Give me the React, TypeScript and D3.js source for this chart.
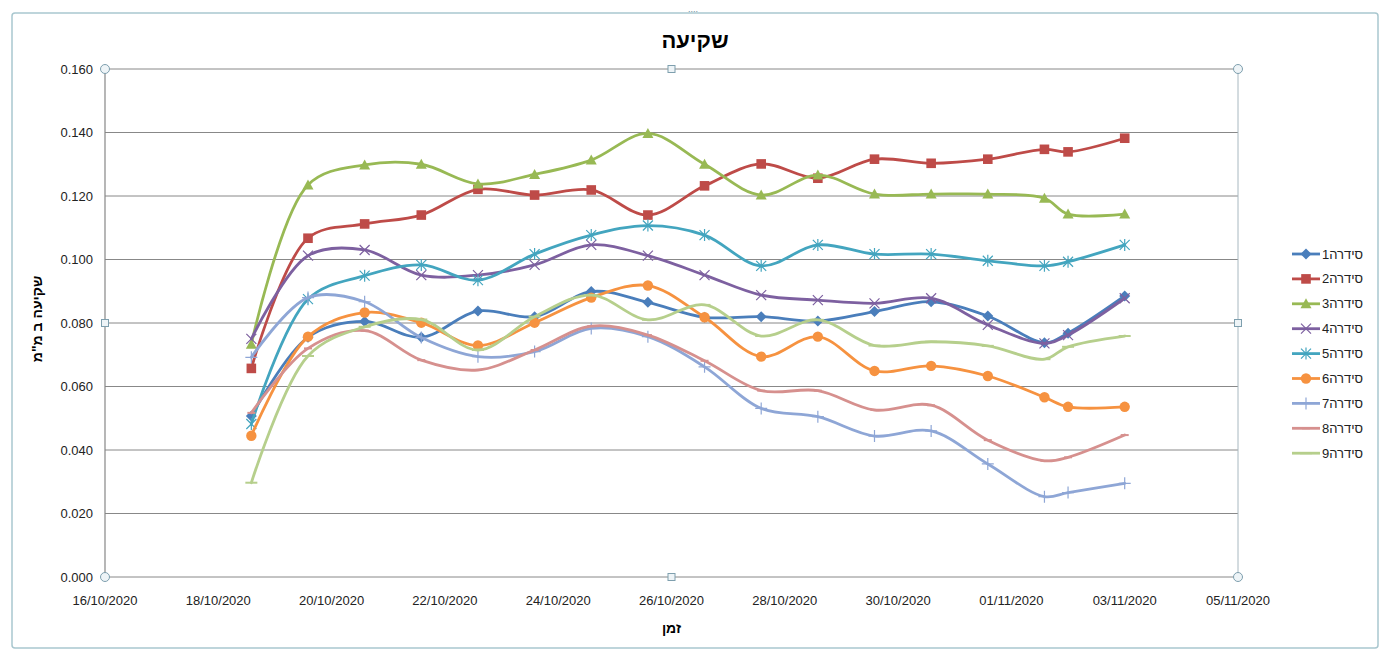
import React from 'react';
import * as d3 from 'd3';

const W = 1387;
const H = 653;
const PLOT = { left: 105, right: 1238, top: 69, bottom: 577 };
const FONT = '"Liberation Sans", Arial, sans-serif';

// measurement times (the last two points were logged without a time of day)
const dates = [
  '2020-10-18T14:00', '2020-10-19T14:00', '2020-10-20T14:00', '2020-10-21T14:00',
  '2020-10-22T14:00', '2020-10-23T14:00', '2020-10-24T14:00', '2020-10-25T14:00',
  '2020-10-26T14:00', '2020-10-27T14:00', '2020-10-28T14:00', '2020-10-29T14:00',
  '2020-10-30T14:00', '2020-10-31T14:00', '2020-11-01T14:00', '2020-11-02T00:00',
  '2020-11-03T00:00',
];

const s1 = [0.0507, 0.0755, 0.0805, 0.0755, 0.0838, 0.082, 0.0899, 0.0865, 0.0818, 0.082, 0.0806, 0.0836, 0.0867, 0.0822, 0.0738, 0.0768, 0.0885];
const s2 = [0.0657, 0.1067, 0.1112, 0.114, 0.1221, 0.1203, 0.1219, 0.114, 0.1232, 0.1301, 0.1256, 0.1316, 0.1303, 0.1316, 0.1347, 0.1339, 0.1382];
const s3 = [0.0733, 0.1235, 0.1298, 0.13, 0.1238, 0.1268, 0.1313, 0.1397, 0.13, 0.1203, 0.1266, 0.1206, 0.1206, 0.1206, 0.1193, 0.1143, 0.1143];
const s4 = [0.075, 0.1012, 0.103, 0.0951, 0.0951, 0.0983, 0.1046, 0.1012, 0.0951, 0.0888, 0.0872, 0.0862, 0.0878, 0.0794, 0.0736, 0.0762, 0.0878];
const s5 = [0.0482, 0.0875, 0.0949, 0.0983, 0.0935, 0.1017, 0.1077, 0.1107, 0.1077, 0.098, 0.1046, 0.1017, 0.1017, 0.0996, 0.098, 0.0993, 0.1046];
const s6 = [0.0445, 0.0757, 0.0833, 0.0801, 0.0729, 0.0801, 0.088, 0.0918, 0.0818, 0.0694, 0.0757, 0.0649, 0.0665, 0.0633, 0.0566, 0.0536, 0.0536];
const s7 = [0.0692, 0.088, 0.0867, 0.0754, 0.0694, 0.071, 0.0783, 0.0757, 0.0662, 0.0531, 0.0505, 0.0444, 0.046, 0.0356, 0.0253, 0.0266, 0.0295];
const s8 = [0.0517, 0.072, 0.0776, 0.0683, 0.0652, 0.0715, 0.079, 0.0762, 0.0681, 0.0587, 0.0587, 0.0526, 0.0541, 0.0431, 0.0366, 0.0377, 0.0447];
const s9 = [0.0297, 0.0696, 0.0788, 0.0811, 0.0715, 0.082, 0.0888, 0.081, 0.0857, 0.0759, 0.081, 0.0729, 0.0741, 0.0728, 0.0686, 0.0725, 0.0759];

const seriesNames = ['סידרה1', 'סידרה2', 'סידרה3', 'סידרה4', 'סידרה5', 'סידרה6', 'סידרה7', 'סידרה8', 'סידרה9'];
const seriesColors = ['#4A7EBB', '#BE4B48', '#98B954', '#7D60A0', '#43A5BF', '#F69240', '#8EA6D6', '#D6908E', '#B6CF8C'];
const seriesMarkers = ['diamond', 'square', 'triangle', 'x', 'star', 'circle', 'plus', 'dash', 'longdash'];

const yTicks = [0, 0.02, 0.04, 0.06, 0.08, 0.1, 0.12, 0.14, 0.16];
const xTicks = ['2020-10-16', '2020-10-18', '2020-10-20', '2020-10-22', '2020-10-24', '2020-10-26', '2020-10-28', '2020-10-30', '2020-11-01', '2020-11-03', '2020-11-05'];

const title = 'שקיעה';
const xTitle = 'זמן';
const yTitle = 'שקיעה ב מ"מ';

const parseTime = d3.timeParse('%Y-%m-%dT%H:%M');
const parseDay = d3.timeParse('%Y-%m-%d');
const fmtDay = d3.timeFormat('%d/%m/%Y');

function Marker({ kind, x, y, color }: { kind: string; x: number; y: number; color: string }) {
  const t = `translate(${x},${y})`;
  switch (kind) {
    case 'diamond':
      return <path transform={t} d="M0,-5.5L5.5,0L0,5.5L-5.5,0Z" fill={color} />;
    case 'square':
      return <rect transform={t} x={-4.8} y={-4.8} width={9.6} height={9.6} fill={color} />;
    case 'triangle':
      return <path transform={t} d="M0,-5.5L5.5,4.5L-5.5,4.5Z" fill={color} />;
    case 'x':
      return <path transform={t} d="M-5,-5L5,5M-5,5L5,-5" stroke={color} strokeWidth={1.2} fill="none" />;
    case 'star':
      return <path transform={t} d="M-5,-5L5,5M-5,5L5,-5M0,-6L0,6" stroke={color} strokeWidth={1.2} fill="none" />;
    case 'circle':
      return <circle transform={t} r={5.2} fill={color} />;
    case 'plus':
      return <path transform={t} d="M-6,0L6,0M0,-6L0,6" stroke={color} strokeWidth={1.2} fill="none" />;
    case 'dash':
      return <path transform={t} d="M-4,0L4,0" stroke={color} strokeWidth={2} fill="none" />;
    default:
      return <path transform={t} d="M-6,0L6,0" stroke={color} strokeWidth={2} fill="none" />;
  }
}

function Handle({ x, y, round }: { x: number; y: number; round: boolean }) {
  return round ? (
    <circle cx={x} cy={y} r={4.5} fill="#eef4f7" stroke="#7e9fae" strokeWidth={1} />
  ) : (
    <rect x={x - 3.5} y={y - 3.5} width={7} height={7} fill="#eef4f7" stroke="#7e9fae" strokeWidth={1} />
  );
}

export default function App() {
  const times = dates.map((d) => parseTime(d) as Date);
  const allSeries = [s1, s2, s3, s4, s5, s6, s7, s8, s9];

  const x = d3
    .scaleTime()
    .domain([parseDay('2020-10-16') as Date, parseDay('2020-11-05') as Date])
    .range([PLOT.left, PLOT.right]);
  const y = d3.scaleLinear().domain([0, 0.16]).range([PLOT.bottom, PLOT.top]);

  const line = d3
    .line<number>()
    .x((_, i) => x(times[i]))
    .y((v) => y(v))
    .curve(d3.curveCatmullRom.alpha(0.5));

  const midX = (PLOT.left + PLOT.right) / 2;
  const midY = (PLOT.top + PLOT.bottom) / 2;

  return (
    <svg
      width={W}
      height={H}
      viewBox={`0 0 ${W} ${H}`}
      style={{ position: 'absolute', left: 0, top: 0, background: '#fff' }}
      fontFamily={FONT}
    >
      {/* chart area frame */}
      <rect x={12} y={13} width={1366} height={635} rx={3} fill="#fff" stroke="#a9c7cf" strokeWidth={1.5} />
      <text x={693} y={12} fontSize={9} fill="#6d8d99" textAnchor="middle">....</text>

      <text x={695} y={48} textAnchor="middle" fontSize={22} fontWeight="bold" fill="#000">
        {title}
      </text>

      {/* gridlines */}
      {yTicks.map((t) => (
        <line key={t} x1={PLOT.left} x2={PLOT.right} y1={y(t)} y2={y(t)} stroke="#888" strokeWidth={1} />
      ))}
      <line x1={PLOT.right} x2={PLOT.right} y1={PLOT.top} y2={PLOT.bottom} stroke="#a8b8c0" strokeWidth={1} />
      <line x1={PLOT.left} x2={PLOT.left} y1={PLOT.top} y2={PLOT.bottom} stroke="#868686" strokeWidth={1.2} />

      {yTicks.map((t) => (
        <text key={t} x={93} y={y(t) + 4.5} textAnchor="end" fontSize={13} fill="#222">
          {d3.format('.3f')(t)}
        </text>
      ))}
      {xTicks.map((d) => (
        <text key={d} x={x(parseDay(d) as Date)} y={605} textAnchor="middle" fontSize={13} fill="#222">
          {fmtDay(parseDay(d) as Date)}
        </text>
      ))}

      <text x={midX} y={633} textAnchor="middle" fontSize={14} fontWeight="bold" fill="#000">
        {xTitle}
      </text>
      <text
        transform={`translate(42,${midY - 4}) rotate(-90)`}
        textAnchor="middle"
        fontSize={14}
        fontWeight="bold"
        fill="#000"
      >
        {yTitle}
      </text>

      {/* series */}
      {allSeries.map((vals, si) => (
        <g key={si}>
          <path
            d={line(vals) || ''}
            fill="none"
            stroke={seriesColors[si]}
            strokeWidth={2.8}
            strokeLinejoin="round"
            strokeLinecap="round"
          />
          {vals.map((v, i) => (
            <Marker key={i} kind={seriesMarkers[si]} x={x(times[i])} y={y(v)} color={seriesColors[si]} />
          ))}
        </g>
      ))}

      {/* plot area selection handles */}
      <Handle x={PLOT.left} y={PLOT.top} round />
      <Handle x={PLOT.right} y={PLOT.top} round />
      <Handle x={PLOT.left} y={PLOT.bottom} round />
      <Handle x={PLOT.right} y={PLOT.bottom} round />
      <Handle x={midX} y={PLOT.top} round={false} />
      <Handle x={midX} y={PLOT.bottom} round={false} />
      <Handle x={PLOT.left} y={midY} round={false} />
      <Handle x={PLOT.right} y={midY} round={false} />

      {/* legend */}
      {seriesNames.map((name, i) => {
        const ly = 254 + i * 24.9;
        return (
          <g key={name}>
            <line x1={1292} x2={1320} y1={ly} y2={ly} stroke={seriesColors[i]} strokeWidth={2.8} />
            <Marker kind={seriesMarkers[i]} x={1306} y={ly} color={seriesColors[i]} />
            <text x={1322} y={ly + 4.5} fontSize={13} fill="#222">
              {name}
            </text>
          </g>
        );
      })}
    </svg>
  );
}
